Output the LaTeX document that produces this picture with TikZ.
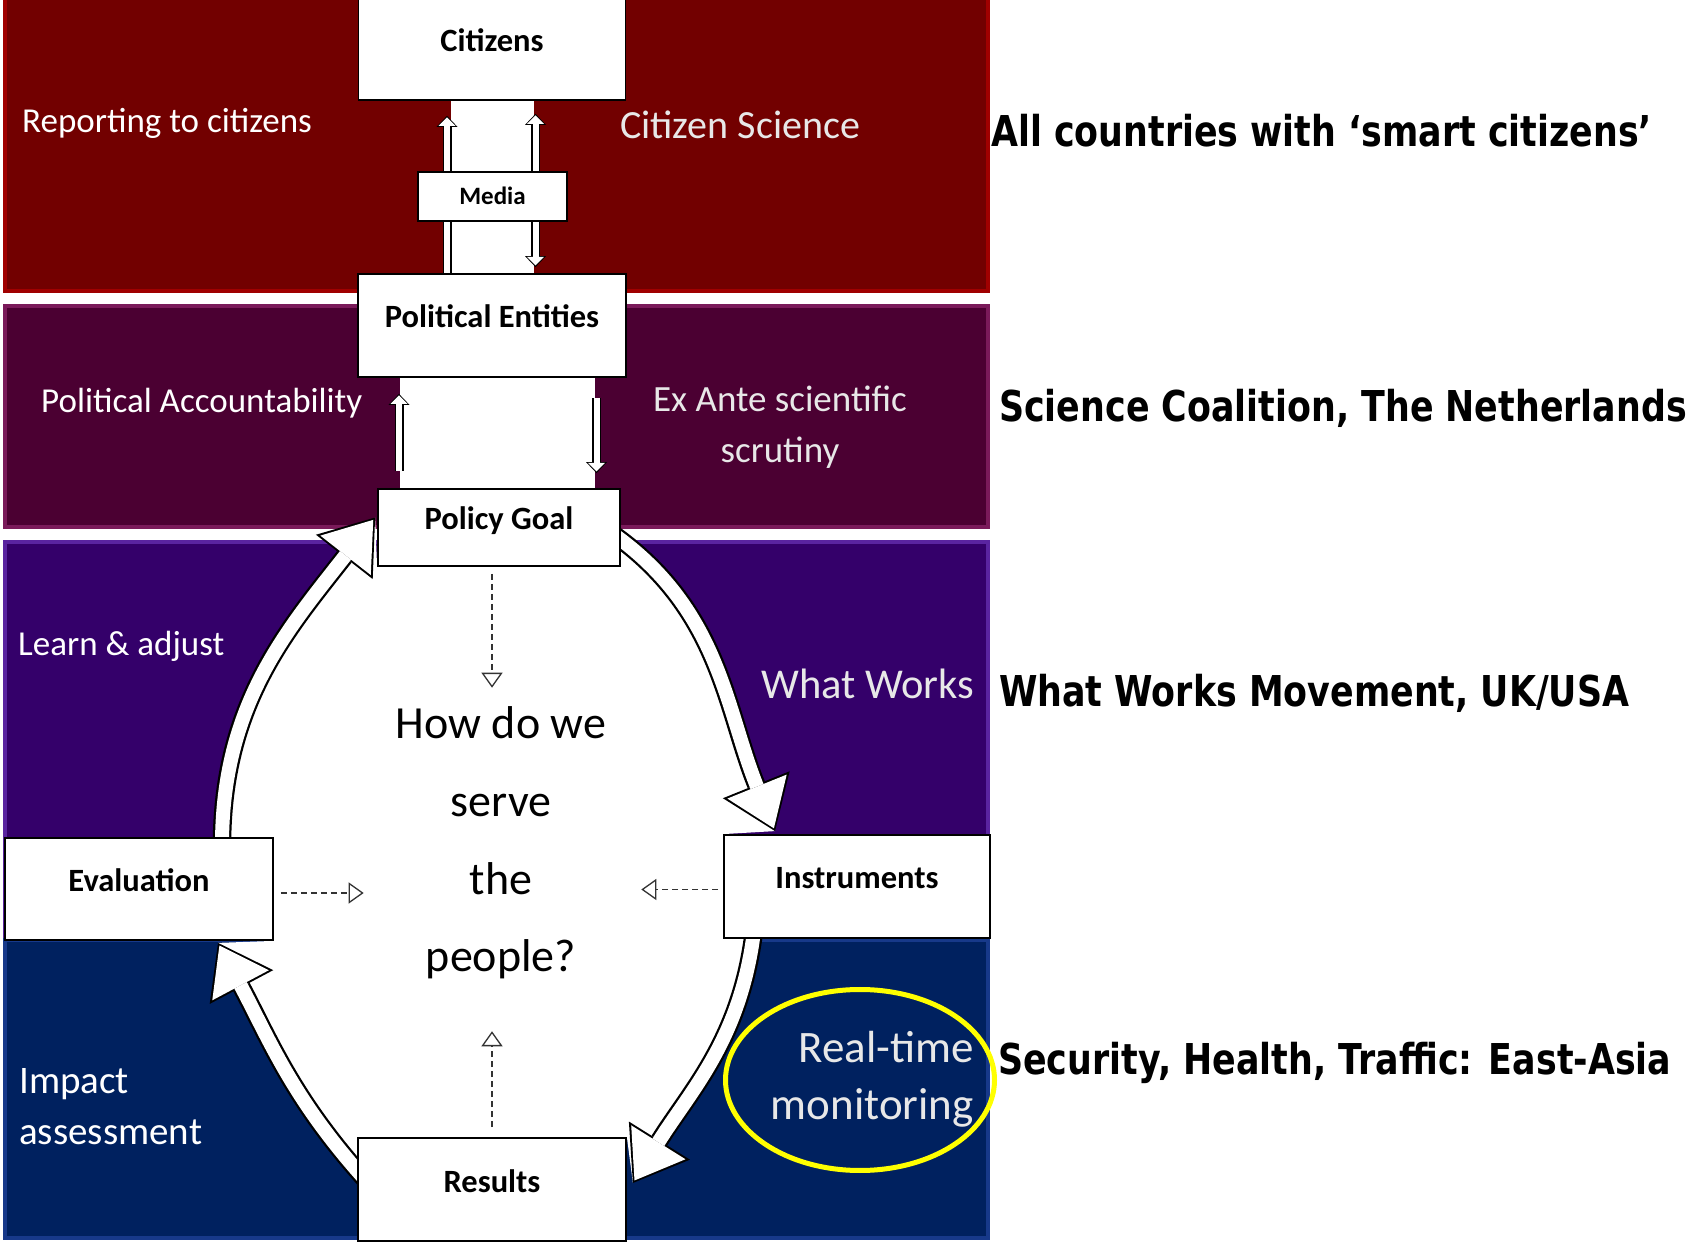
\documentclass[tikz,border=0pt]{standalone}
\usepackage{fontspec}
\setmainfont{Carlito}
\newfontfamily\sidefont{DejaVu Sans}[FakeStretch=0.82]
\usepackage{tikz}
\usetikzlibrary{arrows.meta, positioning, calc}

\definecolor{bandred}{HTML}{720000}
\definecolor{bandplum}{HTML}{4B0032}
\definecolor{bandviolet}{HTML}{34006A}
\definecolor{bandnavy}{HTML}{00215F}
\definecolor{rimred}{HTML}{A00000}
\definecolor{rimplum}{HTML}{7A1A5A}
\definecolor{rimviolet}{HTML}{5A24A0}
\definecolor{rimnavy}{HTML}{17398A}
\definecolor{softwhite}{HTML}{E8E8E8}
\definecolor{ringyellow}{HTML}{FFFF00}

\pgfdeclarelayer{bandlayer}
\pgfdeclarelayer{egglayer}
\pgfdeclarelayer{arrowlayer}
\pgfsetlayers{bandlayer,egglayer,arrowlayer,main}

\begin{document}
\begin{tikzpicture}[
    x=1pt, y=1pt,
    stagebox/.style={rectangle, draw, line width=1.8pt, fill=white, inner sep=0pt, minimum width=268pt, minimum height=103pt, text height=22pt, text depth=17pt, font=\fontsize{32.5pt}{39pt}\selectfont\bfseries},
    mediabox/.style={stagebox, minimum width=149pt, minimum height=49pt, text height=17pt, text depth=0pt, font=\fontsize{25pt}{30pt}\selectfont\bfseries},
    rim/.style={draw=#1, line width=4pt},
    bandtext/.style={text=white, inner sep=0pt, anchor=base west},
    sidetext/.style={inner sep=0pt, anchor=base west, font=\sidefont\bfseries\fontsize{42.5pt}{50pt}\selectfont},
    ring/.style={draw=ringyellow, line width=5pt},
    fatarrow/.style={draw=white, line width=14pt, -{Triangle[width=64pt, length=45pt, line width=0pt]}, shorten >=3pt,
        preaction={draw=black, line width=18.5pt, -{Triangle[width=72pt, length=50pt, line width=0pt]}, shorten >=0pt}},
    thinarrow/.style={draw=white, line width=6pt, -{Triangle[width=17pt, length=8.5pt, line width=0pt]}, shorten >=1.6pt,
        preaction={draw=black, line width=9pt, -{Triangle[width=21pt, length=11pt, line width=0pt]}, shorten >=0pt}},
    dasharrow/.style={draw=black!80, line width=1.3pt, dash pattern=on 6pt off 4pt, -{Triangle[open, width=21pt, length=15pt]}},
]
\useasboundingbox (0,0) rectangle (1691,1242);

% stage boxes
\node[stagebox, minimum width=267pt, minimum height=102pt] (citizens) at (492,1193) {Citizens};
\node[mediabox] (media) at (492.5,1045.5) {Media};
\node[stagebox] (polent) at (492,916.5) {Political Entities};
\node[stagebox, minimum width=242pt, minimum height=77pt] (goal) at (499,714.5) {Policy Goal};
\node[stagebox, minimum height=102pt] (eval) at (139,353) {Evaluation};
\node[stagebox, minimum width=266pt] (instr) at (857,355.5) {Instruments};
\node[stagebox] (results) at (492,52.5) {Results};

% ends of the cycle arrows
\coordinate (a0) at ($(eval.north)+(83,-8)$);
\coordinate (a1) at ($(goal.west)+(-2,10)$);
\coordinate (b0) at ($(goal.east)+(-10,-5)$);
\coordinate (b1) at ($(instr.north)+(-82,3)$);
\coordinate (c0) at ($(instr.south)+(-103,8)$);
\coordinate (c1) at ($(results.east)+(6,6.5)$);
\coordinate (d0) at ($(results.west)+(8,10)$);
\coordinate (d1) at ($(eval.south)+(79,-2)$);

% coloured bands
\begin{pgfonlayer}{bandlayer}
\fill[bandred] (3,949) rectangle (990,1242);
\draw[rim=rimred] (5,951) rectangle (988,1244);
\fill[bandplum] (3,713) rectangle (990,938);
\draw[rim=rimplum] (5,715) rectangle (988,936);
\fill[bandviolet] (3,304) rectangle (990,702);
\draw[rim=rimviolet] (5,306) rectangle (988,700);
\fill[bandnavy] (3,2) rectangle (990,304);
\draw[rim=rimnavy] (5,4) rectangle (988,302);
\end{pgfonlayer}

% white gaps and the inside of the cycle
\begin{pgfonlayer}{egglayer}
\fill[white] ($(citizens.south)+(-41,0)$) rectangle ($(polent.north)+(42,0)$);
\fill[white] ($(goal.north)+(-99,0)$) rectangle ($(polent.south)+(103,0)$);
\fill[white] (a0) to[out=90,in=232] (a1) -- (goal.south west) -- (b0)
    to[out=-35,in=112] (b1) -- (instr.north west) -- (instr.south west) -- (c0)
    to[out=-97,in=58] (c1) -- (results.north east) -- (d0)
    to[out=132,in=-62] (d1) -- (eval.south east) -- (eval.north east) -- cycle;
\end{pgfonlayer}

\begin{pgfonlayer}{arrowlayer}
\draw[fatarrow] (a0) to[out=90,in=232] (a1);
\draw[fatarrow] (b0) to[out=-35,in=112] (b1);
\draw[fatarrow] (c0) to[out=-97,in=58] (c1);
\draw[fatarrow] (d0) to[out=132,in=-62] (d1);
\draw[thinarrow] ($(polent.north)+(-45,0)$) -- ($(citizens.south)+(-45,-15)$);
\draw[thinarrow] ($(media.north)+(43,0)$) -- ($(citizens.south)+(43.5,-13)$);
\draw[thinarrow] ($(media.south)+(43,0)$) -- ($(polent.north)+(43.5,6)$);
\draw[thinarrow] ($(goal.north)+(-100,17)$) -- ($(polent.south)+(-93,-16)$);
\draw[thinarrow] ($(polent.south)+(104.5,-20)$) -- ($(goal.north)+(97.5,15)$);
\end{pgfonlayer}

% band labels
\node[bandtext, font=\fontsize{35pt}{41pt}\selectfont] (reporting) at (22,1109) {Reporting to citizens};
\node[bandtext, text=softwhite, font=\fontsize{40pt}{47pt}\selectfont] (science) at (620,1103.5) {Citizen Science};
\node[bandtext, font=\fontsize{35pt}{42pt}\selectfont] (account) at (41,829) {Political Accountability};
\node[text=softwhite, align=center, inner sep=0pt, font=\fontsize{37pt}{51pt}\selectfont] (exante) at (780,814.5) {Ex Ante scientific\\scrutiny};
\node[bandtext, font=\fontsize{35pt}{42pt}\selectfont] (learn) at (18,586) {Learn \& adjust};
\node[bandtext, text=softwhite, font=\fontsize{42.5pt}{50pt}\selectfont] (whatworks) at (761,543) {What Works};
\node[text=white, anchor=west, align=left, inner sep=0pt, font=\fontsize{39pt}{51pt}\selectfont] (impact) at (19,135.5) {Impact\\assessment};
\draw[ring] (860,162) ellipse [x radius=134.5, y radius=90.5];
\node[text=softwhite, anchor=east, align=right, inner sep=0pt, font=\fontsize{45pt}{57pt}\selectfont] (realtime) at (974,162.5) {Real-time\\monitoring};

% centre question
\node[align=center, inner sep=0pt, font=\fontsize{46pt}{77.6pt}\selectfont] (question) at (501,399) {How do we\\serve\\the\\people?};
\draw[dasharrow, shorten <=7pt, shorten >=19pt] (goal.south -| results.north) -- (question.north -| results.north);
\draw[dasharrow, shorten <=7pt, shorten >=32pt] ([yshift=-4pt]eval.east) -- ([yshift=-4pt]eval.east -| question.west);
\draw[dasharrow, shorten <=5pt, shorten >=35pt] ([yshift=-3pt]instr.west) -- ([yshift=-3pt]instr.west -| question.east);
\draw[dasharrow, shorten <=10pt, shorten >=52pt] (results.north) -- (question.south -| results.north);

% countries
\node[sidetext] (allcountries) at (991,1095) {All countries with ‘smart citizens’};
\node[sidetext] (coalition) at (999,820) {Science Coalition, The Netherlands};
\node[sidetext] (movement) at (999,535) {What Works Movement, UK/USA};
\node[sidetext] (eastasia) at (998,167) {Security, Health, Traffic: East-Asia};
\end{tikzpicture}
\end{document}
